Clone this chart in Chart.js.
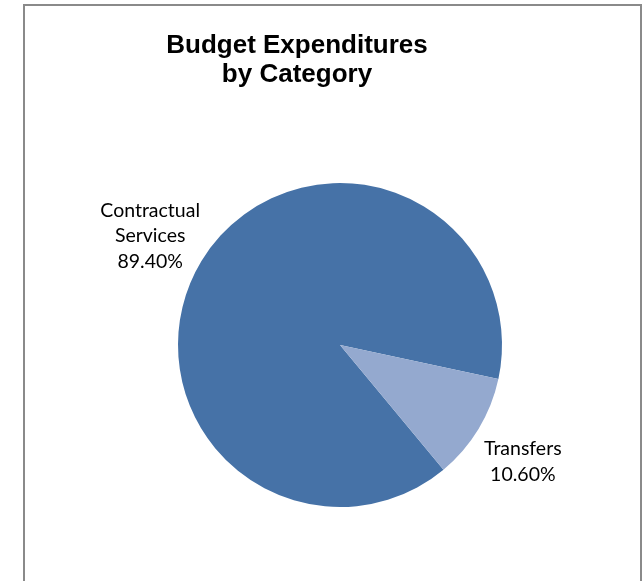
<!DOCTYPE html>
<html lang="en">
<head>
    <meta charset="UTF-8">
    <title>Budget Expenditures by Category</title>
    <style>
        body {
            margin: 0;
            padding: 0;
            background: #ffffff;
        }

        .wrap {
            position: relative;
            width: 643px;
            height: 581px;
            overflow: hidden;
        }

        .frame {
            position: absolute;
            left: 23px;
            top: 4px;
            width: 615px;
            height: 640px;
            border: 2px solid #8a8a8a;
        }

        #chart {
            position: absolute;
            left: 0;
            top: 0;
        }
    </style>
    <script src="https://cdn.jsdelivr.net/npm/chart.js"></script>
</head>
<body>
    <div class="wrap">
        <div class="frame"></div>
        <canvas id="chart" width="643" height="581"></canvas>
    </div>
    <script>
        // Chart data
        const categories = ['Contractual Services', 'Transfers'];
        const shares = [89.4, 10.6];
        const sliceColors = ['#4672a7', '#94a9cf'];
        const titleLines = ['Budget Expenditures', 'by Category'];

        // Title drawn left of the pie centre, two bold lines
        const titlePlugin = {
            id: 'sheetTitle',
            afterDraw(chart) {
                const ctx = chart.ctx;
                ctx.save();
                ctx.fillStyle = '#000000';
                ctx.font = 'bold 26px "Liberation Sans", Arial, sans-serif';
                ctx.textAlign = 'center';
                ctx.textBaseline = 'alphabetic';
                titleLines.forEach((line, i) => {
                    ctx.fillText(line, 297, 53 + i * 29);
                });
                ctx.restore();
            }
        };

        // Category name and percentage outside each slice
        const sliceLabels = {
            id: 'sliceLabels',
            afterDatasetsDraw(chart) {
                const ctx = chart.ctx;
                const meta = chart.getDatasetMeta(0);
                ctx.save();
                ctx.fillStyle = '#000000';
                ctx.font = '19.5px Lato, "Open Sans", sans-serif';
                ctx.textAlign = 'center';
                ctx.textBaseline = 'middle';
                meta.data.forEach((arc, i) => {
                    const p = arc.getProps(['x', 'y', 'startAngle', 'endAngle', 'outerRadius'], true);
                    const mid = (p.startAngle + p.endAngle) / 2;
                    const dist = p.outerRadius * 1.345;
                    // small nudge: label box sits a bit left/low of the radial point
                    const cx = p.x + Math.cos(mid) * dist - 3.5;
                    const cy = p.y + Math.sin(mid) * dist + 4;
                    const words = categories[i].split(' ');
                    const lines = words.concat([shares[i].toFixed(2) + '%']);
                    const lh = 25.5;
                    const top = cy - (lines.length - 1) * lh / 2;
                    lines.forEach((line, j) => {
                        ctx.fillText(line, cx, top + j * lh);
                    });
                });
                ctx.restore();
            }
        };

        const ctx = document.getElementById('chart').getContext('2d');
        new Chart(ctx, {
            type: 'pie',
            data: {
                labels: categories,
                datasets: [{
                    data: shares,
                    backgroundColor: sliceColors,
                    borderWidth: 0
                }]
            },
            options: {
                responsive: false,
                animation: false,
                devicePixelRatio: 1,
                rotation: 140.3,
                layout: {
                    padding: { left: 178, right: 141, top: 183, bottom: 74 }
                },
                plugins: {
                    legend: { display: false },
                    tooltip: { enabled: false },
                    title: { display: false }
                }
            },
            plugins: [titlePlugin, sliceLabels]
        });
    </script>
</body>
</html>
